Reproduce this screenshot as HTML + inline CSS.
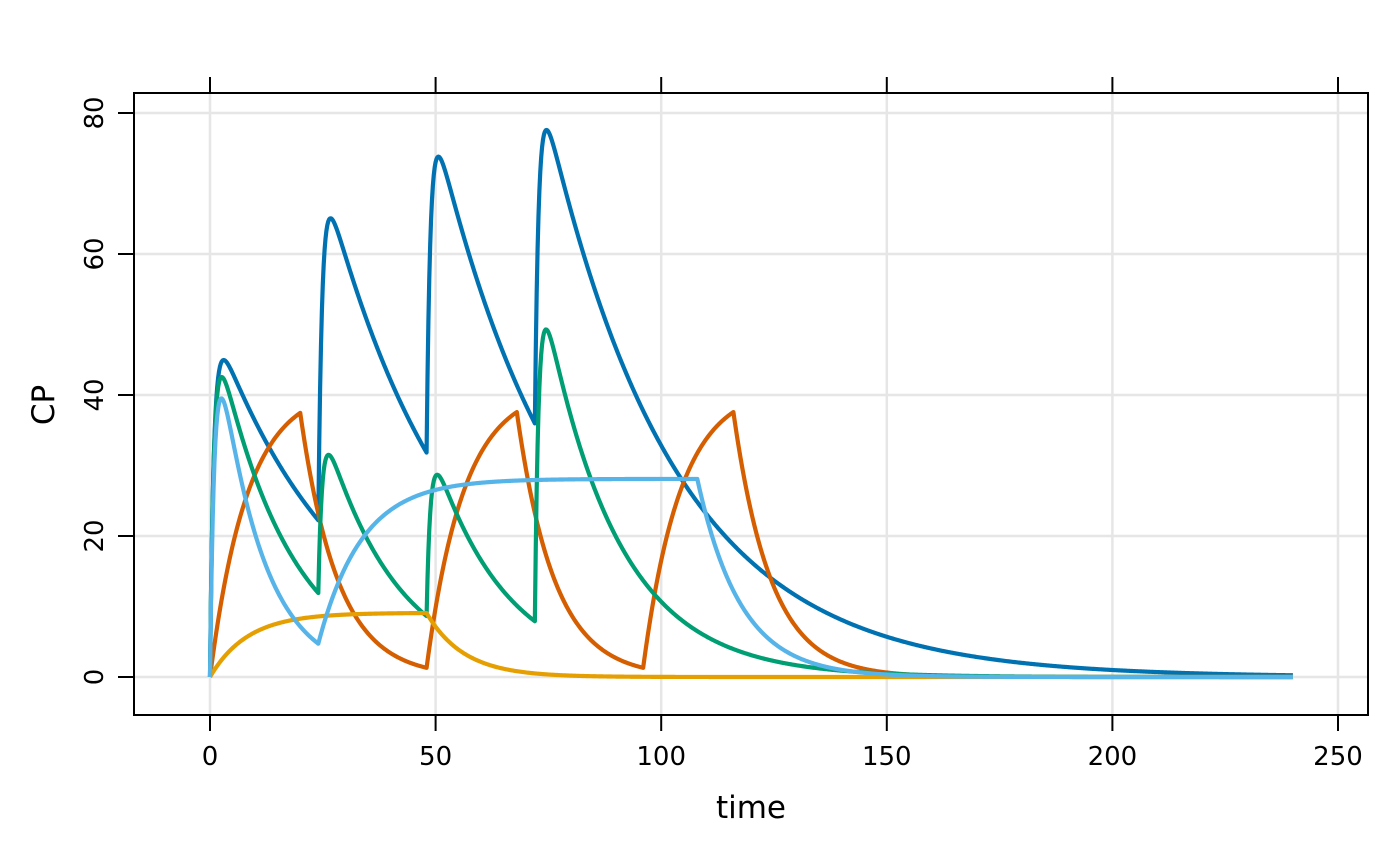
<!DOCTYPE html>
<html><head><meta charset="utf-8"><style>
html,body{margin:0;padding:0;background:#fff;}
svg{display:block;font-family:"DejaVu Sans","Liberation Sans",sans-serif;}
</style></head><body>
<svg id="s" width="1400" height="866" viewBox="0 0 1400 866" xmlns="http://www.w3.org/2000/svg">
<g id="grid" stroke="#e6e6e6" stroke-width="2.5"></g>
<g id="curves" fill="none" stroke-width="4.2" stroke-linejoin="round"></g>
<rect x="134" y="93" width="1234" height="622" fill="none" stroke="#000" stroke-width="2"/>
<g id="ticks" stroke="#000" stroke-width="2"></g>
<g id="labels" font-size="26" fill="#000"></g>
<text x="751" y="818" font-size="31" text-anchor="middle">time</text>
<text transform="translate(54,405) rotate(-90)" font-size="31" text-anchor="middle">CP</text>
</svg>
<script>
const NS="http://www.w3.org/2000/svg";
const X=t=>210+t*4.512, Y=c=>677-c*7.05;
function el(p,tag,a,txt){const e=document.createElementNS(NS,tag);for(const k in a)e.setAttribute(k,a[k]);if(txt!==undefined)e.textContent=txt;document.getElementById(p).appendChild(e);}
for(let t=0;t<=250;t+=50){const x=X(t);
 el("grid","line",{x1:x,x2:x,y1:93,y2:715});
 el("ticks","line",{x1:x,x2:x,y1:715,y2:731});
 el("ticks","line",{x1:x,x2:x,y1:77,y2:93});
 el("labels","text",{x:x,y:765,"text-anchor":"middle"},t);}
for(let c=0;c<=80;c+=20){const y=Y(c);
 el("grid","line",{x1:134,x2:1368,y1:y,y2:y});
 el("ticks","line",{x1:118,x2:134,y1:y,y2:y});
 el("labels","text",{transform:`translate(103,${y}) rotate(-90)`,"text-anchor":"middle"},c);}
function sim(ka,ke,doses,infs){
 let A=0,C=0,dt=0.01,pts=[],di=0;
 const ds=doses.slice().sort((a,b)=>a.t-b.t);
 for(let i=0;i<=24000;i++){const t=i*dt;
  while(di<ds.length&&ds[di].t<=t+1e-9){A+=ds[di].amt;di++;}
  if(i%20==0)pts.push([t,C]);
  let R=0;for(const f of infs)if(t>=f.s&&t<f.e)R+=f.r;
  const dA1=-ka*A,dC1=ka*A-ke*C+R;
  const A2=A+dA1*dt,C2=C+dC1*dt;
  const dA2=-ka*A2,dC2=ka*A2-ke*C2+R;
  A+=0.5*(dA1+dA2)*dt;C+=0.5*(dC1+dC2)*dt;}
 return pts;}
function draw(pts,col){el("curves","path",{d:"M"+pts.map(p=>X(p[0]).toFixed(2)+","+Y(p[1]).toFixed(2)).join("L"),stroke:col});}
const blue=sim(1.2,0.035,[0,24,48,72].map(t=>({t,amt:50})),[]);
const orange=sim(1,0.12,[],[{s:0,e:20,r:41.2*0.12},{s:48,e:68,r:41.2*0.12},{s:96,e:116,r:41.2*0.12}]);
const green=sim(1.2,0.062,[{t:0,amt:50},{t:24,amt:25},{t:48,amt:25},{t:72,amt:50}],[]);
const yellow=sim(1,0.12,[],[{s:0,e:48,r:9.1*0.12}]);
const lblue=sim(1.0,0.104,[{t:0,amt:51.4}],[{s:24,e:108,r:28.1*0.104}]);
draw(blue,"#0072B2");draw(orange,"#D55E00");draw(green,"#009E73");draw(yellow,"#E69F00");draw(lblue,"#56B4E9");
</script>
</body></html>
